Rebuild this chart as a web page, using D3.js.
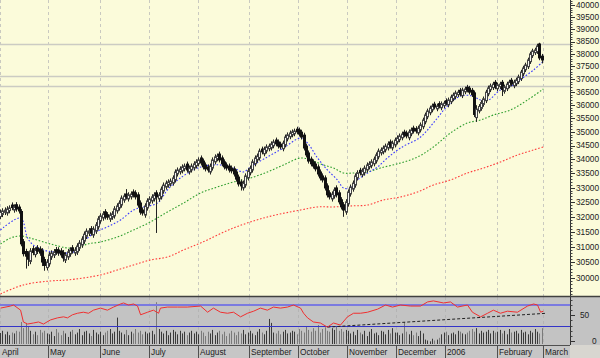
<!DOCTYPE html>
<html><head><meta charset="utf-8">
<script src="https://cdn.jsdelivr.net/npm/d3@7"></script>
<style>body{margin:0;background:#fff}svg{display:block}text{font-family:"Liberation Sans",Arial,sans-serif}</style>
</head><body><svg id="c" width="600" height="358"></svg>
<script>
const months = ["April","May","June","July","August","September","October","November","December","2006","February","March"];
const monthDays = [21,22,21,21,22,21,21,21,21,22,20,0];

const open = [
32010,32080,32150,32130,32210,32400,32230,32410,32330,32180,31170,30850,30770,30530,30940,30750,30970,30930,30870,30590,30330,
30450,30670,30730,30910,30900,30870,30810,30570,30670,30770,30970,30800,30830,30960,31060,31190,31350,31450,31600,31390,31520,31660,
31860,31960,32170,32070,31920,31990,32030,32200,32300,32400,32570,32780,32610,32680,32850,32820,32750,32470,32230,32060,32300,
32470,32540,32610,32820,32610,32680,32880,33020,33090,33130,33160,33270,33480,33550,33590,33660,33830,33550,33620,33690,33770,
33840,34050,33940,33800,33730,33550,33690,33910,34020,34190,34050,33910,33800,33760,33690,33660,33550,33370,33200,32990,33090,33340,
33520,33620,33840,33980,34050,34370,34200,34300,34380,34410,34490,34700,34630,34550,34380,34520,34740,34820,34890,34930,35100,
35070,34990,34880,34480,34230,34010,33910,33830,33730,33550,33410,33340,33060,32820,32610,32710,32990,32820,32580,32410,32160,
32440,32780,32950,33090,33340,33610,33450,33520,33620,33730,33770,33840,33940,34090,34230,34270,34340,34410,34630,34410,34520,
34630,34710,34780,34990,34960,34780,34930,35140,35120,34960,35070,35190,35370,35560,35710,35820,36040,35860,36060,35900,35980,
36170,36010,36130,36240,36320,36400,36570,36360,36510,36690,36650,36570,36470,35530,35780,35880,36030,36170,36430,36590,36670,36880,
36630,36710,36880,36530,36630,36740,36960,36740,36820,36900,37020,37210,37370,37490,37690,37930,38050,38090,38400,37910];
const high = [
32250,32290,32320,32360,32390,32490,32425,32500,32420,32260,31260,30940,30860,30960,31030,30990,31060,31020,30960,30680,30600,
30830,30890,30930,31000,30990,30960,30900,30830,30930,30990,31060,30990,31120,31220,31350,31510,31610,31620,31690,31680,31820,32020,
32120,32190,32260,32160,32150,32190,32360,32460,32560,32730,32800,32950,32840,32870,32940,32910,32840,32560,32320,32460,32630,
32700,32770,32840,32910,32840,33040,33180,33250,33290,33320,33430,33640,33710,33750,33820,33850,33920,33780,33850,33930,34000,
34070,34140,34030,33890,33820,33850,34070,34180,34210,34280,34140,34000,33890,33850,33780,33750,33640,33460,33290,33250,33500,33680,
33780,34000,34140,34210,34390,34460,34460,34540,34570,34650,34720,34790,34720,34640,34680,34900,34980,35050,35090,35120,35190,
35160,35080,34970,34570,34320,34100,34000,33920,33820,33640,33500,33430,33150,32910,32870,33010,33080,32910,32670,32500,32600,
32940,33110,33250,33500,33610,33700,33680,33780,33890,33930,34000,34100,34250,34390,34430,34500,34570,34650,34720,34680,34790,
34870,34940,35010,35080,35050,35090,35160,35230,35210,35230,35350,35530,35720,35870,35980,36060,36130,36060,36150,36140,36170,
36260,36290,36400,36480,36560,36590,36660,36670,36710,36780,36740,36660,36560,36000,36040,36190,36330,36590,36750,36830,36900,36970,
36870,36900,36970,36790,36900,36980,37050,36980,37060,37180,37370,37530,37650,37850,38090,38210,38250,38410,38450,38000];
const low = [
31920,31990,32060,32040,32120,32225,32140,32175,32110,31020,30690,30300,30380,30440,30730,30660,30770,30710,30380,30230,30240,
30360,30580,30640,30740,30710,30650,30520,30480,30580,30680,30780,30710,30740,30870,30970,31100,31260,31360,31370,31300,31430,31570,
31770,31870,31910,31900,31830,31900,31940,32110,32210,32310,32480,32590,32520,32590,32660,32590,32310,32070,32040,31970,32210,
32380,32450,32520,31460,32520,32590,32790,32930,33000,33040,33070,33180,33390,33460,33500,33570,33530,33460,33530,33600,33680,
33750,33780,33640,33570,33530,33460,33600,33820,33930,33890,33750,33640,33600,33530,33500,33390,33210,33040,32900,32900,33000,33250,
33430,33530,33750,33890,33960,34180,34110,34210,34290,34320,34400,34470,34390,34360,34290,34430,34650,34730,34800,34840,34910,
34830,34720,34320,34070,33850,33750,33670,33570,33390,33250,33180,32900,32660,32590,32520,32620,32660,32420,32250,32000,32070,
32350,32690,32860,33000,33250,33430,33360,33430,33530,33640,33680,33750,33850,34000,34140,34180,34250,34320,34390,34320,34430,
34540,34620,34690,34800,34760,34690,34840,34940,34940,34870,34980,35100,35280,35470,35620,35730,35840,35770,35880,35810,35890,
35990,35920,36040,36150,36230,36310,36340,36270,36420,36490,36410,36310,35550,35370,35690,35790,35940,36080,36340,36500,36580,36610,
36540,36620,36350,36440,36540,36650,36720,36650,36730,36810,36930,37120,37280,37400,37600,37840,37960,38000,37750,37620];
const close = [
32160,32200,32230,32265,32300,32315,32335,32265,32200,31100,30780,30700,30600,30870,30820,30900,30860,30800,30510,30400,30510,
30740,30800,30840,30830,30800,30740,30640,30740,30840,30900,30870,30900,31030,31130,31260,31420,31520,31530,31460,31590,31730,31930,
32030,32100,32000,31990,32060,32100,32270,32370,32470,32640,32710,32680,32750,32780,32750,32680,32400,32160,32130,32370,32540,
32610,32680,32750,32680,32750,32950,33090,33160,33200,33230,33340,33550,33620,33660,33730,33760,33620,33690,33760,33840,33910,
33980,33870,33730,33660,33620,33760,33980,34090,34120,33980,33840,33730,33690,33620,33590,33480,33300,33130,33060,33160,33410,33590,
33690,33910,34050,34120,34300,34270,34370,34450,34480,34560,34630,34560,34480,34450,34590,34810,34890,34960,35000,35030,35000,
34920,34810,34410,34160,33940,33840,33760,33660,33480,33340,33270,32990,32750,32680,32780,32920,32750,32510,32340,32230,32510,
32850,33020,33160,33410,33520,33520,33590,33690,33800,33840,33910,34010,34160,34300,34340,34410,34480,34560,34480,34590,34700,
34780,34850,34920,34890,34850,35000,35070,35030,35030,35140,35260,35440,35630,35780,35890,35970,35930,35970,35970,36050,36080,
36080,36200,36310,36390,36470,36500,36430,36580,36620,36580,36500,36400,35650,35850,35950,36100,36240,36500,36660,36740,36810,36700,
36780,36810,36600,36700,36810,36890,36810,36890,36970,37090,37280,37440,37560,37760,38000,38120,38160,38320,37840,37760];
const volume = [
25,30,22,28,20,26,24,30,28,50,36,48,40,30,22,28,20,32,26,30,24,
22,28,18,34,26,20,30,24,16,28,32,22,26,34,20,28,30,24,18,32,26,22,
28,20,26,30,34,24,28,60,30,26,22,32,20,28,24,34,26,30,22,28,24,
26,30,22,95,34,28,24,30,20,26,32,28,22,30,24,28,20,26,30,24,28,
22,30,26,18,28,24,32,20,26,30,22,28,18,24,30,26,20,28,24,32,22,26,
30,24,20,28,34,26,22,30,57,48,26,24,30,22,28,32,24,26,30,28,22,
34,30,26,40,32,28,36,30,43,26,34,38,30,28,36,32,40,30,34,28,32,
30,24,28,20,32,26,22,30,18,28,34,24,26,20,30,28,22,32,24,36,26,
26,20,24,50,28,22,30,20,26,18,30,24,10,8,6,12,8,10,14,22,26,
28,20,24,26,22,30,28,24,22,26,30,34,28,36,24,30,26,28,32,24,30,26,
28,32,24,30,22,34,26,28,30,24,32,26,28,22,30,26,34,28,24,36];

const maShortIdx = [0,8.6,11.6,14,18.4,22.7,28.7,31.3,34.3,40,45.8,51.4,57,61.2,67.2,71.5,77,85.7,91.2,94.2,99.8,104,107,114.3,121.2,128.5,131.5,135.8,140,144.3,146.9,149.9,152.9,157.2,161.5,165.7,171.3,179.9,185.4,191.4,197,202.1,205.6,209,214,219.7,223.6,228.3,232.1];
const maShortVal = [31559,31960,31294,31064,30900,30835,30800,30835,31064,31460,31660,31894,32232,32335,32470,32919,33338,33728,33799,33799,33692,33550,33728,34085,34410,34775,34592,34049,33621,33268,32989,32989,33268,33515,33728,34049,34410,34812,35330,35969,36350,36350,36197,36197,36581,36775,37048,37361,37677];
const maMidIdx = [0,4.3,8.6,14.1,21.4,28.7,33,37.3,42.8,50.1,57,64.2,71.5,78.4,85.7,92.9,99.8,107,114.3,121.2,128.5,132.8,138.3,142.6,146.9,151.2,157.2,162.7,171.3,178.6,185.4,192.7,200,205.6,211.1,218.4,225.7,232.5];
const maMidVal = [31097,31294,31360,31261,31097,30966,30966,31097,31162,31327,31559,31827,32164,32470,32815,33023,33198,33338,33550,33799,34049,33977,33799,33692,33515,33515,33550,33692,33870,34085,34447,34959,35330,35442,35629,35818,36197,36620];
const maLongIdx = [0,9.8,21.4,28.7,42.8,50.1,57,64.2,71.5,78.4,85.7,99.8,114.3,128.5,135.8,142.6,149.9,157.2,164,171.3,178.6,185.4,192.7,200,206.9,214.1,221.4,228.3,232.5];
const maLongVal = [29500,29781,29907,29938,30096,30256,30416,30576,30673,30900,31130,31627,31995,32232,32335,32335,32370,32402,32574,32677,32850,33093,33268,33515,33692,33906,34157,34338,34447];

const rsiIdx = [0,4.3,5.6,8.6,9.8,11.6,14.1,16.3,18.4,21.4,24.4,27,28.7,30.8,33,35.5,37.7,39.8,42.8,45.8,48.4,51.4,52.7,54.8,57,58.7,60,63,65.5,67.7,68.5,71.5,75.8,80,85.7,88.7,91.2,94.2,97.2,99.8,102.8,105.8,108.4,111.3,114.3,116.9,119.9,122.9,125.5,128.5,129.8,131.5,134,137,140,142.6,145.6,148.6,151.2,154.2,157.2,161.5,164.9,167.9,171.3,175.6,179.9,182.9,185.4,189.7,192.7,195.7,200,202.1,205.6,208.6,211.1,214.1,217.1,221.4,225.7,228.3,230,231.3,232.5];
const rsiVal = [64,68,70,60,37,33,35,37,33,41,45,47,45,51,54,56,54,60,64,60,66,72,74,70,72,68,51,56,60,54,64,66,66,66,68,56,64,56,54,56,47,54,58,64,60,66,64,66,70,64,54,45,37,35,27,35,31,47,54,54,56,62,70,66,70,68,68,76,78,74,76,66,70,56,47,54,60,54,58,56,68,72,70,56,58];
const rsiLevels = [70,30];
const trendIdx = [140,234];
const trendVal = [27,54];

const levels = [38400,37140,36720];
const priceTicks = [30000,30500,31000,31500,32000,32500,33000,33500,34000,34500,35000,35500,36000,36500,37000,37500,38000,38500,39000,39500,40000];
const rsiTicks = [0,50];

// ---------- layout ----------
const svg = d3.select("#c");
const plotR = 570, mainB = 296, lowT = 297, lowB = 345, H = 358;
const font = '"Liberation Sans",Arial,sans-serif';

const starts = [0];
monthDays.forEach((d,i)=>{ if(i<monthDays.length-1) starts.push(starts[i]+d); });

const x = d3.scaleLinear().domain([0,232]).range([0.5, 0.5+232*2.335]);
const y = d3.scaleLog().domain([30000,40000]).range([278,5.3]);
const yr = d3.scaleLinear().domain([0,100]).range([341,289.6]);
const yv = d3.scaleLinear().domain([0,100]).range([344,300]);

// backgrounds
svg.append("rect").attr("x",0).attr("y",0).attr("width",600).attr("height",lowT).attr("fill","#FBFBDA");
svg.append("rect").attr("x",0).attr("y",lowT).attr("width",600).attr("height",lowB-lowT).attr("fill","#C3C3C3");
svg.append("rect").attr("x",0).attr("y",lowB).attr("width",plotR).attr("height",H-lowB).attr("fill","#C6C6C6");
svg.append("rect").attr("x",plotR).attr("y",lowB).attr("width",600-plotR).attr("height",H-lowB).attr("fill","#D8D6D0");

svg.append("defs").append("clipPath").attr("id","mainClip").append("rect")
  .attr("x",0).attr("y",0).attr("width",plotR).attr("height",mainB);

// month gridlines
const gx = starts.map(s => Math.max(0.5, Math.round(x(s-0.5))+0.5));
svg.append("g").selectAll("line").data(gx).join("line")
  .attr("x1",d=>d).attr("x2",d=>d).attr("y1",0).attr("y2",mainB)
  .attr("stroke","#C9C9C0").attr("stroke-dasharray","3,3").attr("stroke-width",1);
svg.append("g").selectAll("line").data(gx).join("line")
  .attr("x1",d=>d).attr("x2",d=>d).attr("y1",lowT).attr("y2",lowB)
  .attr("stroke","#B4B4B4").attr("stroke-dasharray","3,3").attr("stroke-width",1);

// horizontal levels
svg.append("g").selectAll("line").data(levels).join("line")
  .attr("x1",0).attr("x2",plotR).attr("y1",d=>Math.round(y(d))+0.5).attr("y2",d=>Math.round(y(d))+0.5)
  .attr("stroke","#CBCBC3").attr("stroke-width",1.5);

// moving averages
const main = svg.append("g").attr("clip-path","url(#mainClip)");
function maLine(idx, val, color){
  const pts = idx.map((d,i)=>[x(d), y(val[i])]);
  main.append("path").attr("d", d3.line().curve(d3.curveCatmullRom)(pts))
    .attr("fill","none").attr("stroke",color).attr("stroke-width",1.1).attr("stroke-dasharray","1.6,1.8");
}
maLine(maLongIdx, maLongVal, "#FF3A3A");
maLine(maMidIdx, maMidVal, "#2E9E2E");
maLine(maShortIdx, maShortVal, "#3A3AFF");

// candles
const idx = d3.range(close.length);
const cg = main.append("g");
cg.selectAll("line").data(idx).join("line")
  .attr("x1",i=>Math.floor(x(i))+0.5).attr("x2",i=>Math.floor(x(i))+0.5)
  .attr("y1",i=>y(high[i])).attr("y2",i=>y(low[i]))
  .attr("stroke","#222").attr("stroke-width",1);
cg.selectAll("rect").data(idx).join("rect")
  .attr("x",i=>Math.floor(x(i))-0.5).attr("width",2)
  .attr("y",i=>y(Math.max(open[i],close[i])))
  .attr("height",i=>Math.max(0.6, y(Math.min(open[i],close[i]))-y(Math.max(open[i],close[i]))))
  .attr("fill",i=>close[i]>=open[i]?"#F8F8F2":"#111")
  .attr("stroke",i=>close[i]>=open[i]?"#444":"#111").attr("stroke-width",1);

// right price axis
const ax = svg.append("g");
ax.append("line").attr("x1",plotR+0.5).attr("x2",plotR+0.5).attr("y1",0).attr("y2",mainB).attr("stroke","#333");
const minor = d3.range(29500,40300,100);
ax.selectAll("line.mn").data(minor).join("line").attr("class","mn")
  .attr("x1",plotR+0.5).attr("x2",plotR+2.5).attr("y1",d=>Math.round(y(d))+0.5).attr("y2",d=>Math.round(y(d))+0.5)
  .attr("stroke","#444").attr("stroke-width",1);
ax.selectAll("line.mj").data(priceTicks).join("line").attr("class","mj")
  .attr("x1",plotR+0.5).attr("x2",plotR+5).attr("y1",d=>Math.round(y(d))+0.5).attr("y2",d=>Math.round(y(d))+0.5)
  .attr("stroke","#333").attr("stroke-width",1);
ax.selectAll("text").data(priceTicks).join("text")
  .attr("x",576).attr("y",d=>y(d)).attr("dy","0.35em")
  .attr("font-size","8.3px").attr("fill","#222").style("font-family",font).text(d=>d);

// lower panel: volume
const vg = svg.append("g");
vg.selectAll("line").data(idx).join("line")
  .attr("x1",i=>Math.floor(x(i))+0.5).attr("x2",i=>Math.floor(x(i))+0.5)
  .attr("y1",yv(0)).attr("y2",i=>yv(volume[i]))
  .attr("stroke",i=>close[i]>=open[i]?"#3A3A3A":"#7A7A7A").attr("stroke-width",1);

// RSI levels
svg.append("line").attr("x1",0).attr("x2",plotR).attr("y1",yr(rsiLevels[0])).attr("y2",yr(rsiLevels[0]))
  .attr("stroke","#7A7AE0").attr("stroke-width",2);
svg.append("line").attr("x1",0).attr("x2",plotR).attr("y1",Math.round(yr(rsiLevels[1]))+0.5).attr("y2",Math.round(yr(rsiLevels[1]))+0.5)
  .attr("stroke","#3434C8").attr("stroke-width",1);

// trend line on RSI
svg.append("line").attr("x1",x(trendIdx[0])).attr("x2",x(trendIdx[1]))
  .attr("y1",yr(trendVal[0])).attr("y2",yr(trendVal[1]))
  .attr("stroke","#222").attr("stroke-width",1).attr("stroke-dasharray","3,2");

// RSI line
svg.append("path").attr("d", d3.line()(rsiIdx.map((d,i)=>[x(d), yr(rsiVal[i])])))
  .attr("fill","none").attr("stroke","#F03030").attr("stroke-width",1);

// lower axis
const lax = svg.append("g");
lax.append("line").attr("x1",plotR+0.5).attr("x2",plotR+0.5).attr("y1",lowT).attr("y2",lowB).attr("stroke","#333");
lax.selectAll("line.mn").data(d3.range(0,101,10).filter(d=>yr(d)>=lowT)).join("line").attr("class","mn")
  .attr("x1",plotR+0.5).attr("x2",plotR+2.5).attr("y1",d=>Math.round(yr(d))+0.5).attr("y2",d=>Math.round(yr(d))+0.5)
  .attr("stroke","#444");
lax.selectAll("line.mj").data(rsiTicks).join("line").attr("class","mj")
  .attr("x1",plotR+0.5).attr("x2",plotR+5).attr("y1",d=>Math.round(yr(d))+0.5).attr("y2",d=>Math.round(yr(d))+0.5)
  .attr("stroke","#333");
lax.selectAll("text").data(rsiTicks).join("text")
  .attr("x",d=>d===0?592:580).attr("y",d=>yr(d)).attr("dy","0.35em")
  .attr("font-size","8.3px").attr("fill","#222").style("font-family",font).text(d=>d);

// separators
svg.append("line").attr("x1",0).attr("x2",600).attr("y1",296.5).attr("y2",296.5).attr("stroke","#404040").attr("stroke-width",1.5);
svg.append("line").attr("x1",0).attr("x2",plotR).attr("y1",lowB+0.5).attr("y2",lowB+0.5).attr("stroke","#505050").attr("stroke-width",1);

// month axis
const mx = svg.append("g");
mx.selectAll("line").data(gx.slice(1)).join("line")
  .attr("x1",d=>d).attr("x2",d=>d).attr("y1",lowB).attr("y2",H)
  .attr("stroke","#505050");
mx.selectAll("text").data(months).join("text")
  .attr("x",(d,i)=>gx[i]+1.5).attr("y",352.5).attr("dy","0.35em")
  .attr("font-size","8.3px").attr("fill","#222").style("font-family",font).text(d=>d);
</script></body></html>
